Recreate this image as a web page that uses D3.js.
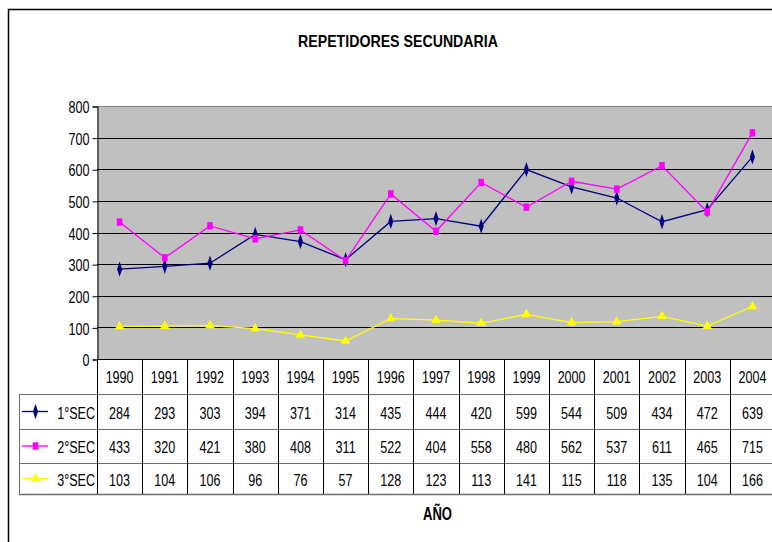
<!DOCTYPE html>
<meta charset="utf-8">
<style>
body { margin: 0; background: #fff; }
svg text { font-family: 'Liberation Sans', Arial, sans-serif; }
</style>
<body>
<div id="chart"></div>
<script src="https://d3js.org/d3.v7.min.js"></script>
<script>
var years = ["1990","1991","1992","1993","1994","1995","1996","1997","1998","1999","2000","2001","2002","2003","2004"];
var sec1 = [284, 293, 303, 394, 371, 314, 435, 444, 420, 599, 544, 509, 434, 472, 639];
var sec2 = [433, 320, 421, 380, 408, 311, 522, 404, 558, 480, 562, 537, 611, 465, 715];
var sec3 = [103, 104, 106, 96, 76, 57, 128, 123, 113, 141, 115, 118, 135, 104, 166];
var seriesNames = ["1°SEC", "2°SEC", "3°SEC"];
var yTicks = [0, 100, 200, 300, 400, 500, 600, 700, 800];

var width = 772, height = 542;
var plotLeft = 97, plotRight = 775, plotTop = 106, plotBottom = 359;
var narrow = 0.74; // squeeze Liberation Sans towards Arial Narrow

var series = [
  { name: seriesNames[0], values: sec1, color: "#000080", symbol: d3.symbolDiamond, size: 40 },
  { name: seriesNames[1], values: sec2, color: "#ff00ff", symbol: d3.symbolSquare, size: 42 },
  { name: seriesNames[2], values: sec3, color: "#ffff00", symbol: d3.symbolTriangle, size: 40 }
];

var svg = d3.select("#chart").append("svg")
    .attr("width", width)
    .attr("height", height);

// narrow text helper
function label(g, tx, ty, str, anchor, size, bold) {
  return g.append("text")
      .attr("transform", "translate(" + tx + "," + ty + ") scale(" + narrow + ",1)")
      .attr("text-anchor", anchor)
      .attr("font-size", size)
      .attr("font-weight", bold ? "bold" : "normal")
      .attr("fill", "#000")
      .text(str);
}

function marker(s) {
  var stretch = s.symbol === d3.symbolDiamond ? " scale(0.75,1.3)"
      : s.symbol === d3.symbolSquare ? " scale(0.85,1.15)" : "";
  return function(px, py) { return "translate(" + px + "," + py + ")" + stretch; };
}

// outer frame
svg.append("path")
    .attr("d", "M8.5," + height + "V9.5H" + width)
    .attr("fill", "none")
    .attr("stroke", "#000")
    .attr("stroke-width", 1.5);

var x = d3.scaleBand().domain(years).range([plotLeft, plotRight]);
var y = d3.scaleLinear().domain([0, 800]).range([plotBottom, plotTop]);

// plot area
svg.append("rect")
    .attr("x", plotLeft).attr("y", plotTop)
    .attr("width", plotRight - plotLeft).attr("height", plotBottom - plotTop)
    .attr("fill", "#c0c0c0");

svg.append("g").selectAll("line")
    .data(yTicks.slice(1))
  .enter().append("line")
    .attr("x1", plotLeft).attr("x2", plotRight)
    .attr("y1", function(d) { return Math.round(y(d)) + 0.5; })
    .attr("y2", function(d) { return Math.round(y(d)) + 0.5; })
    .attr("stroke", function(d) { return d === 800 ? "#808080" : "#000"; });

// y axis
var yAxis = svg.append("g")
    .attr("transform", "translate(" + (plotLeft + 0.5) + ",0.5)")
    .call(d3.axisLeft(y).tickValues(yTicks).tickSize(5).tickPadding(3));
yAxis.select(".domain").attr("stroke", "#000");
yAxis.selectAll(".tick line").attr("stroke", "#000");
yAxis.selectAll("text")
    .attr("font-size", 17)
    .attr("fill", "#000")
    .attr("dy", "0.36em")
    .attr("x", -8 / narrow)
    .attr("transform", "scale(" + narrow + ",1)");

// lines and markers
var cx = function(i) { return x(years[i]) + x.bandwidth() / 2; };
var line = d3.line()
    .x(function(d, i) { return cx(i); })
    .y(function(d) { return y(d); });

series.forEach(function(s) {
  var place = marker(s);
  svg.append("path")
      .datum(s.values)
      .attr("d", line)
      .attr("fill", "none")
      .attr("stroke", s.color)
      .attr("stroke-width", 1.3);
  svg.append("g").selectAll("path")
      .data(s.values)
    .enter().append("path")
      .attr("transform", function(d, i) { return place(cx(i), y(d)); })
      .attr("d", d3.symbol().type(s.symbol).size(s.size))
      .attr("fill", s.color);
});

// data table
var rowTops = [359, 394, 429, 463, 494];
var tableLeft = 19;
var table = svg.append("g");

table.selectAll("line.h")
    .data(rowTops)
  .enter().append("line")
    .attr("class", "h")
    .attr("x1", function(d, i) { return i === 0 ? plotLeft : tableLeft; })
    .attr("x2", plotRight)
    .attr("y1", function(d) { return d + 0.5; })
    .attr("y2", function(d) { return d + 0.5; })
    .attr("stroke", function(d, i) { return i === 0 ? "#000" : "#6e6e6e"; })
    .attr("stroke-width", function(d, i) { return i === rowTops.length - 1 ? 1.5 : 1; });

var colEdges = years.map(function(d) { return x(d); }).concat([plotRight]);
table.selectAll("line.v")
    .data(colEdges)
  .enter().append("line")
    .attr("class", "v")
    .attr("x1", function(d) { return Math.round(d) + 0.5; })
    .attr("x2", function(d) { return Math.round(d) + 0.5; })
    .attr("y1", rowTops[0])
    .attr("y2", rowTops[4])
    .attr("stroke", "#000");

table.append("line")
    .attr("x1", tableLeft + 0.5).attr("x2", tableLeft + 0.5)
    .attr("y1", rowTops[1]).attr("y2", rowTops[4])
    .attr("stroke", "#6e6e6e");

years.forEach(function(yr, i) {
  label(table, cx(i), (rowTops[0] + rowTops[1]) / 2 + 6.5, yr, "middle", 17);
});

series.forEach(function(s, r) {
  var cy = (rowTops[r + 1] + rowTops[r + 2]) / 2;
  s.values.forEach(function(v, i) {
    label(table, cx(i), cy + 7, v, "middle", 17);
  });

  // legend key
  table.append("line")
      .attr("x1", 22).attr("x2", 48)
      .attr("y1", cy).attr("y2", cy)
      .attr("stroke", s.color)
      .attr("stroke-width", 1.3);
  table.append("path")
      .attr("transform", marker(s)(35.5, cy))
      .attr("d", d3.symbol().type(s.symbol).size(s.size))
      .attr("fill", s.color);
  label(table, 95, cy + 7, s.name, "end", 17);
});

// title and axis title
svg.append("text")
    .attr("x", 298).attr("y", 47)
    .attr("textLength", 200)
    .attr("lengthAdjust", "spacingAndGlyphs")
    .attr("font-size", 16.5)
    .attr("font-weight", "bold")
    .text("REPETIDORES SECUNDARIA");

svg.append("text")
    .attr("x", 423).attr("y", 520)
    .attr("textLength", 29)
    .attr("lengthAdjust", "spacingAndGlyphs")
    .attr("font-size", 17.5)
    .attr("font-weight", "bold")
    .text("AÑO");
</script>
</body>
